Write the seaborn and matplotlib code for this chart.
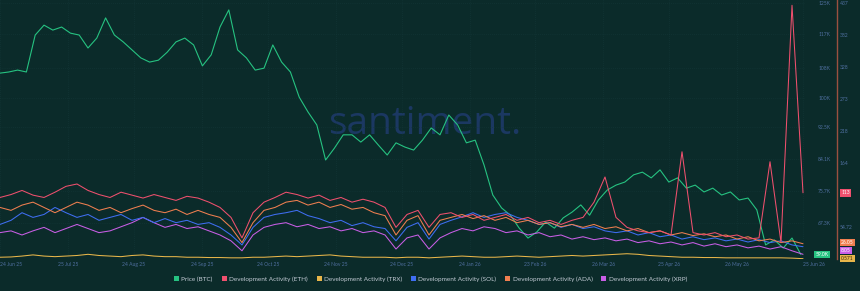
import pandas as pd
import matplotlib
matplotlib.use("Agg")
import matplotlib.pyplot as plt
import matplotlib.transforms as mtransforms
from matplotlib.patches import Patch
import seaborn as sns

# BTC price in thousand USD, sampled roughly every 4 days
btc_price = [
    106.6, 106.9, 107.4, 106.9, 116.6, 119.2, 117.9, 118.7, 117.1, 116.6,
    113.2, 115.8, 121.1, 116.6, 114.8, 112.7, 110.6, 109.5, 110.0, 112.1,
    114.8, 115.8, 114.0, 108.5, 111.4, 118.7, 123.2, 112.7, 110.6, 107.4,
    107.9, 114.0, 109.5, 106.9, 100.3, 96.4, 93.0, 83.8, 86.9, 90.4,
    90.4, 88.5, 90.4, 87.7, 85.1, 88.3, 87.2, 86.4, 89.0, 92.2,
    90.4, 95.6, 93.0, 88.3, 89.0, 82.5, 74.6, 71.2, 69.3, 65.9,
    63.3, 64.9, 67.5, 65.9, 68.6, 70.1, 72.0, 69.3, 73.3, 75.9,
    77.2, 78.0, 79.9, 80.6, 79.1, 81.2, 78.0, 79.1, 76.4, 77.2,
    75.4, 76.4, 74.6, 75.4, 73.3, 73.8, 70.7, 61.5, 62.8, 60.7,
    63.3, 59.0,
]

# development activity, sampled roughly every 5 days
dev_eth = [
    105, 110, 117, 109, 105, 114, 124, 128, 117, 110,
    105, 114, 109, 104, 110, 105, 100, 107, 104, 97,
    88, 71, 36, 79, 97, 105, 114, 110, 104, 109,
    100, 105, 97, 102, 97, 88, 54, 76, 83, 54,
    76, 79, 71, 76, 66, 71, 76, 66, 71, 62,
    66, 59, 66, 71, 97, 140, 71, 54, 48, 45,
    48, 41, 183, 45, 41, 45, 38, 41, 34, 36,
    166, 28, 433, 113,
]
dev_trx = [
    3, 3.5, 5, 7, 5, 4, 5, 6, 8, 6,
    5, 4, 6, 7, 5, 4, 4, 3, 3, 2.5,
    2.5, 2, 2, 3, 3, 4, 5, 4, 5, 6,
    7, 5, 4, 3, 3, 3, 2, 3, 3, 2,
    3, 4, 5, 4, 3, 3, 4, 5, 4, 3,
    4, 5, 6, 5, 6, 7, 8, 9, 8, 6,
    5, 4, 3, 3, 2.5, 2.5, 2, 2, 2, 2,
    2, 2, 1.5, 0.571,
]
dev_sol = [
    59, 66, 79, 71, 76, 88, 79, 71, 76, 66,
    71, 76, 66, 71, 62, 69, 62, 66, 59, 62,
    54, 41, 24, 54, 71, 76, 79, 83, 74, 69,
    62, 66, 57, 62, 55, 52, 31, 54, 62, 34,
    59, 66, 72, 79, 71, 76, 79, 71, 66, 59,
    62, 54, 59, 52, 55, 48, 45, 48, 41, 45,
    38, 41, 34, 38, 33, 36, 31, 34, 29, 33,
    28, 31, 24, 21,
]
dev_ada = [
    88, 83, 92, 97, 88, 79, 88, 97, 92, 83,
    88, 79, 86, 92, 83, 79, 85, 76, 83, 76,
    71, 54, 28, 62, 83, 88, 97, 100, 92, 97,
    88, 93, 85, 88, 79, 74, 41, 66, 74, 41,
    66, 71, 76, 69, 74, 66, 71, 62, 66, 59,
    62, 55, 59, 54, 59, 52, 55, 48, 52, 45,
    48, 41, 45, 40, 43, 38, 41, 34, 38, 31,
    34, 28, 31, 26.05,
]
dev_xrp = [
    45, 48, 41, 48, 54, 45, 52, 59, 52, 45,
    48, 55, 62, 71, 62, 54, 59, 52, 55, 48,
    41, 31, 14, 41, 54, 59, 62, 55, 59, 52,
    55, 48, 52, 45, 48, 41, 17, 36, 41, 17,
    36, 45, 52, 48, 55, 52, 45, 48, 41, 45,
    38, 41, 34, 38, 33, 36, 31, 34, 28, 31,
    26, 29, 24, 28, 22, 26, 21, 24, 19, 22,
    17, 21, 14, 8.05,
]

tick_dates = ["2025-06-24", "2025-07-25", "2025-08-24", "2025-09-24", "2025-10-24",
              "2025-11-24", "2025-12-24", "2026-01-24", "2026-02-23", "2026-03-26",
              "2026-04-25", "2026-05-26", "2026-06-25"]
tick_labels = ["24 Jun 25", "25 Jul 25", "24 Aug 25", "24 Sep 25", "24 Oct 25",
               "24 Nov 25", "24 Dec 25", "24 Jan 26", "23 Feb 26", "26 Mar 26",
               "25 Apr 26", "26 May 26", "25 Jun 26"]
price_ticks = [125, 117, 108, 100, 92.5, 84.1, 75.7, 67.3]
price_tick_labels = ["125K", "117K", "108K", "100K", "92.5K", "84.1K", "75.7K", "67.3K"]
# the 109 label sits under the ETH value tag, so it is left out
dev_ticks = [437, 382, 328, 273, 218, 164, 54.72]
dev_tick_labels = ["437", "382", "328", "273", "218", "164", "54.72"]

BG = "#0b2b2a"
AXIS_TXT = "#4f6f9f"
colors = {
    "Price (BTC)": "#26c281",
    "Development Activity (ETH)": "#f0506e",
    "Development Activity (TRX)": "#e8b64a",
    "Development Activity (SOL)": "#3f6ef2",
    "Development Activity (ADA)": "#f07f50",
    "Development Activity (XRP)": "#c95ee6",
}

sns.set_style("dark", rc={"axes.facecolor": BG, "figure.facecolor": BG})
plt.rcParams["font.family"] = ["Lato", "DejaVu Sans"]

price_dates = pd.date_range("2025-06-24", "2026-06-24", periods=len(btc_price))
dev_dates = pd.date_range("2025-06-24", "2026-06-25", periods=len(dev_eth))
price_df = pd.DataFrame({"date": price_dates, "value": btc_price})
dev_df = pd.DataFrame({
    "date": dev_dates,
    "Development Activity (ETH)": dev_eth,
    "Development Activity (TRX)": dev_trx,
    "Development Activity (SOL)": dev_sol,
    "Development Activity (ADA)": dev_ada,
    "Development Activity (XRP)": dev_xrp,
})

fig = plt.figure(figsize=(8.6, 2.91), dpi=100)
ax = fig.add_axes([0.0, 1 - 259 / 291, 805 / 860, 259 / 291])
ax2 = ax.twinx()
ax2.patch.set_visible(False)

x0 = pd.Timestamp("2025-06-24")
x1 = x0 + pd.Timedelta(days=805 / 2.194)

# watermark
ax.text(0.528, 0.52, "santiment.", transform=ax.transAxes, ha="center", va="center",
        fontsize=28, color="#1b3862", family=["Open Sans", "DejaVu Sans"], zorder=0)

sns.lineplot(data=price_df, x="date", y="value", ax=ax, color=colors["Price (BTC)"],
             linewidth=0.8, legend=False, zorder=3)
for name in ["Development Activity (TRX)", "Development Activity (XRP)",
             "Development Activity (SOL)", "Development Activity (ADA)",
             "Development Activity (ETH)"]:
    sns.lineplot(data=dev_df, x="date", y=name, ax=ax2, color=colors[name],
                 linewidth=0.75, legend=False)

ax.set_xlim(x0, x1)
ax.set_ylim(57.8, 125.8)
ax2.set_ylim(0, 442)

# x axis
ax.set_xticks(pd.to_datetime(tick_dates))
ax.set_xticklabels(tick_labels)
ax.tick_params(axis="x", length=0, pad=2, labelsize=3.6, labelcolor=AXIS_TXT)
xt = ax.get_xticklabels()
xt[0].set_ha("left")
xt[-1].set_ha("left")

# price axis on the right
ax.yaxis.tick_right()
ax.set_yticks(price_ticks)
ax.set_yticklabels(price_tick_labels)
ax.tick_params(axis="y", length=0, pad=9.5, labelsize=3.6, labelcolor=AXIS_TXT)

# development activity axis further right
ax2.set_yticks(dev_ticks)
ax2.set_yticklabels(dev_tick_labels)
ax2.tick_params(axis="y", length=0, pad=2, labelsize=3.6, labelcolor=AXIS_TXT)
ax2.spines["right"].set_position(("axes", 1.04))
ax2.spines["right"].set_visible(True)
ax2.spines["right"].set_color("#9b5040")
ax2.spines["right"].set_linewidth(1.0)
for s in ["left", "top", "bottom"]:
    ax2.spines[s].set_visible(False)
for s in ax.spines.values():
    s.set_visible(False)

ax.grid(True, color="#15393a", linestyle=(0, (1, 2)), linewidth=0.5)
ax2.grid(False)
ax.set_xlabel("")
ax.set_ylabel("")
ax2.set_xlabel("")
ax2.set_ylabel("")

# last-value tags
trans_p = mtransforms.blended_transform_factory(ax.transAxes, ax.transData)
ax.text(1.021, btc_price[-1], f"{btc_price[-1]:.1f}K", transform=trans_p, ha="center",
        va="center", fontsize=3.6, color="white", clip_on=False, zorder=6,
        bbox=dict(boxstyle="square,pad=0.25", fc=colors["Price (BTC)"], ec="none"))

tags = [("Development Activity (ETH)", dev_eth[-1]),
        ("Development Activity (ADA)", dev_ada[-1]),
        ("Development Activity (XRP)", dev_xrp[-1]),
        ("Development Activity (TRX)", dev_trx[-1])]
tags.sort(key=lambda t: t[1])
gap = 8 / 259
prev = -1
for name, v in tags:
    frac = max(v / 442, prev + gap)
    prev = frac
    txt_col = "#3a2a10" if name.endswith("(TRX)") else "white"
    ax2.text(1.045, frac, f"{v:.4g}", transform=ax2.transAxes, ha="left", va="center",
             fontsize=3.6, color=txt_col, clip_on=False, zorder=6,
             bbox=dict(boxstyle="square,pad=0.25", fc=colors[name], ec="none"))

handles = [Patch(facecolor=c, edgecolor="none", label=n) for n, c in colors.items()]
fig.legend(handles=handles, loc="center", bbox_to_anchor=(0.5006, 1 - 279 / 291), ncol=6,
           frameon=False, fontsize=4.6, labelcolor="#c3cbd5", handlelength=0.8,
           handleheight=0.8, handletextpad=0.35, columnspacing=1.4, borderaxespad=0)

fig.savefig("out.png", dpi=100, facecolor=BG)
